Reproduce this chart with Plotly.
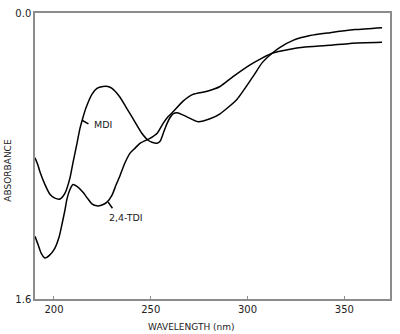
import plotly.graph_objects as go

# UV absorbance spectra of two diisocyanates
mdi_nm = [190.2, 191.7, 192.8, 195.3, 197.9, 200.5, 203.1, 205.7, 208.3, 209.8,
          211.9, 213.4, 214.5, 216.5, 219.6, 222.2, 225.3, 227.9, 230.0, 234.1,
          237.2, 240.3, 245.5, 248.6, 250.6, 253.2, 254.8, 256.8, 258.4, 259.9,
          261.5, 264.1, 268.7, 274.4, 280.6, 285.8, 294.6, 302.8, 307.5, 312.7,
          316.8, 323.5, 332.3, 342.6, 355.6, 369.5]
mdi_abs = [0.810, 0.850, 0.890, 0.959, 1.014, 1.036, 1.041, 1.008, 0.921, 0.838,
           0.729, 0.647, 0.603, 0.532, 0.455, 0.422, 0.411, 0.411, 0.422, 0.471,
           0.526, 0.581, 0.674, 0.712, 0.723, 0.729, 0.718, 0.663, 0.619, 0.586,
           0.564, 0.559, 0.581, 0.608, 0.592, 0.564, 0.482, 0.356, 0.279, 0.225,
           0.192, 0.153, 0.126, 0.110, 0.093, 0.082]

tdi_nm = [190.2, 191.7, 193.3, 195.3, 197.9, 200.5, 202.6, 204.1, 205.7, 206.7,
          208.3, 209.8, 211.9, 215.0, 217.6, 219.6, 222.2, 224.8, 227.4, 230.0,
          232.0, 234.1, 236.7, 239.3, 241.9, 244.4, 249.6, 253.2, 256.3, 258.9,
          261.5, 266.7, 271.8, 279.1, 285.8, 292.5, 301.3, 307.5, 312.7, 322.0,
          328.7, 342.6, 353.0, 369.5]
tdi_abs = [1.249, 1.293, 1.342, 1.370, 1.353, 1.315, 1.255, 1.184, 1.101, 1.041,
           0.986, 0.959, 0.970, 1.003, 1.041, 1.068, 1.079, 1.074, 1.058, 1.019,
           0.964, 0.910, 0.838, 0.784, 0.756, 0.729, 0.701, 0.674, 0.619, 0.581,
           0.553, 0.493, 0.455, 0.438, 0.411, 0.356, 0.290, 0.252, 0.225, 0.203,
           0.192, 0.181, 0.170, 0.164]

x_ticks = [200, 250, 300, 350]
y_ticks = [0.0, 1.6]
y_tick_text = ["0.0", "1.6"]

FONT = "DejaVu Sans"
AXIS_GRAY = "#8c8c8c"

fig = go.Figure()
for name, xs, ys in [("MDI", mdi_nm, mdi_abs), ("2,4-TDI", tdi_nm, tdi_abs)]:
    fig.add_trace(go.Scatter(
        x=xs, y=ys, mode="lines", name=name,
        line=dict(color="black", width=1.5, shape="spline", smoothing=0.6),
        showlegend=False, hoverinfo="skip",
    ))

# curve labels with short leader lines
fig.add_shape(type="line", x0=214.5, y0=0.600, x1=217.8, y1=0.620,
              line=dict(color="black", width=1.5))
fig.add_annotation(x=219.6, y=0.622, text="MDI", showarrow=False,
                   xanchor="left", yanchor="middle",
                   font=dict(family=FONT, size=9.5, color="#222"))
fig.add_shape(type="line", x0=228.0, y0=1.058, x1=230.2, y1=1.092,
              line=dict(color="black", width=1.5))
fig.add_annotation(x=227.2, y=1.142, text="2,4-TDI", showarrow=False,
                   xanchor="left", yanchor="middle",
                   font=dict(family=FONT, size=9.5, color="#222"))

# axis titles
fig.add_annotation(xref="paper", yref="paper", x=-0.075, y=0.45,
                   text="ABSORBANCE", textangle=-90, showarrow=False,
                   xanchor="center", yanchor="middle",
                   font=dict(family=FONT, size=9, color="#222"))
fig.add_annotation(xref="paper", yref="paper", x=0.44, y=-0.075,
                   text="WAVELENGTH (nm)", showarrow=False,
                   xanchor="center", yanchor="top",
                   font=dict(family=FONT, size=9, color="#222"))

fig.update_xaxes(
    range=[190.2, 373.6], tickvals=x_ticks, ticks="inside", ticklen=3,
    tickcolor=AXIS_GRAY, showgrid=False, zeroline=False,
    showline=True, linecolor=AXIS_GRAY, linewidth=1.5, mirror=True,
    tickfont=dict(family=FONT, size=10, color="#222"),
)
fig.update_yaxes(
    range=[1.6, 0.0], tickvals=y_ticks, ticktext=y_tick_text, ticks="",
    showgrid=False, zeroline=False,
    showline=True, linecolor=AXIS_GRAY, linewidth=1.5, mirror=True,
    tickfont=dict(family=FONT, size=10, color="#222"),
)
fig.update_layout(
    width=400, height=334,
    margin=dict(l=35, r=10, t=7, b=35),
    paper_bgcolor="white", plot_bgcolor="white",
)

fig.write_html("out.html")
